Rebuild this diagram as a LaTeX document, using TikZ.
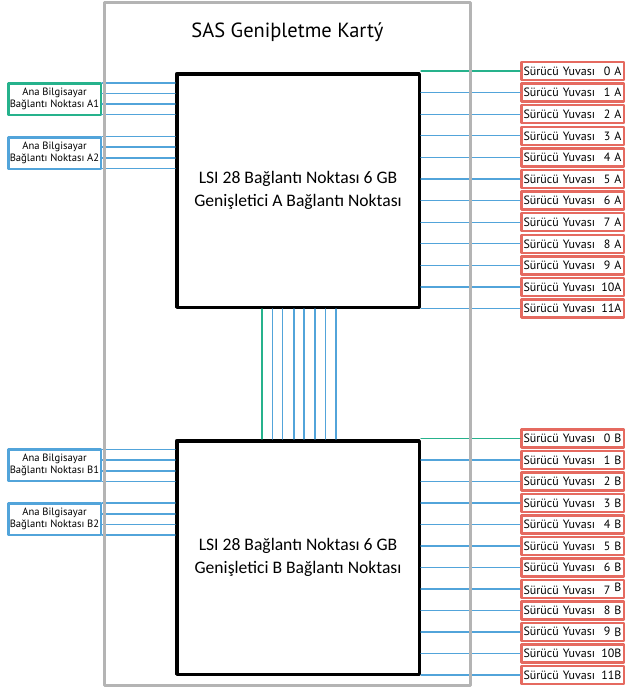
\documentclass[tikz,border=0pt]{standalone}
\usepackage{fontspec}
\setmainfont{PT Sans}
\newfontfamily\calfont{Carlito}
\definecolor{sasgreen}{RGB}{38,178,140}
\definecolor{sasblue}{RGB}{82,164,218}
\definecolor{sasred}{RGB}{229,106,96}
\definecolor{sasgray}{RGB}{180,180,180}

\begin{document}
\begin{tikzpicture}[line cap=round,line join=round,x=1pt,y=-1pt,
expbox/.style={draw=black,line width=3.5pt,minimum width=242.5pt,minimum height=233.5pt,align=center,font=\calfont\fontsize{17.6}{23.5}\selectfont},
hostbox/.style={draw=sasblue,line width=2.5pt,fill=white,minimum width=92.5pt,minimum height=31.5pt,inner sep=0pt,align=center,font=\fontsize{10.6}{12.5}\selectfont},
drivebox/.style={draw=sasred,line width=2.5pt,minimum width=102.5pt,minimum height=18pt,inner sep=0pt,text width=98pt,align=left,font=\fontsize{12}{13}\selectfont},
wire/.style={draw=sasblue,line width=1.1pt},
greenwire/.style={draw=sasgreen,line width=1.1pt}]

\useasboundingbox (0,0) rectangle (627,691);

\node[anchor=base,font=\fontsize{20.5}{24}\selectfont] (title) at (287.5,37) {SAS Geniþletme Kartý};

\node[expbox] (expA) at (298,190.5) {LSI 28 Bağlantı Noktası 6 GB\\Genişletici A Bağlantı Noktası};
\node[expbox] (expB) at (298,557.5) {LSI 28 Bağlantı Noktası 6 GB\\Genişletici B Bağlantı Noktası};

\node[hostbox,draw=sasgreen] (hostA1) at (54.5,99) {Ana Bilgisayar\\Bağlantı Noktası A1};
\node[hostbox] (hostA2) at (54.5,153) {Ana Bilgisayar\\Bağlantı Noktası A2};
\node[hostbox] (hostB1) at (54.5,465) {Ana Bilgisayar\\Bağlantı Noktası B1};
\node[hostbox] (hostB2) at (54.5,519) {Ana Bilgisayar\\Bağlantı Noktası B2};

\node[drivebox] (dA0) at (572.5,71) {Sürücü Yuvası\hfill 0 A};
\node[drivebox] (dA1) at (572.5,92.6) {Sürücü Yuvası\hfill 1 A};
\node[drivebox] (dA2) at (572.5,114.2) {Sürücü Yuvası\hfill 2 A};
\node[drivebox] (dA3) at (572.5,135.8) {Sürücü Yuvası\hfill 3 A};
\node[drivebox] (dA4) at (572.5,157.4) {Sürücü Yuvası\hfill 4 A};
\node[drivebox] (dA5) at (572.5,179) {Sürücü Yuvası\hfill 5 A};
\node[drivebox] (dA6) at (572.5,200.6) {Sürücü Yuvası\hfill 6 A};
\node[drivebox] (dA7) at (572.5,222.2) {Sürücü Yuvası\hfill 7 A};
\node[drivebox] (dA8) at (572.5,243.8) {Sürücü Yuvası\hfill 8 A};
\node[drivebox] (dA9) at (572.5,265.4) {Sürücü Yuvası\hfill 9 A};
\node[drivebox] (dA10) at (572.5,287) {Sürücü Yuvası\hfill 10A};
\node[drivebox] (dA11) at (572.5,308.6) {Sürücü Yuvası\hfill 11A};

\node[drivebox] (dB0) at (572.5,438.5) {Sürücü Yuvası\hfill 0 B};
\node[drivebox] (dB1) at (572.5,460) {Sürücü Yuvası\hfill 1 B};
\node[drivebox] (dB2) at (572.5,481.5) {Sürücü Yuvası\hfill 2 B};
\node[drivebox] (dB3) at (572.5,503) {Sürücü Yuvası\hfill 3 B};
\node[drivebox] (dB4) at (572.5,524.5) {Sürücü Yuvası\hfill 4 B};
\node[drivebox] (dB5) at (572.5,546) {Sürücü Yuvası\hfill 5 B};
\node[drivebox] (dB6) at (572.5,567.5) {Sürücü Yuvası\hfill 6 B};
\node[drivebox] (dB7) at (572.5,589) {Sürücü Yuvası\hfill 7 \raisebox{2.5pt}{B}};
\node[drivebox] (dB8) at (572.5,610.5) {Sürücü Yuvası\hfill 8 B};
\node[drivebox] (dB9) at (572.5,632) {Sürücü Yuvası\hfill 9 \raisebox{-1pt}{B}};
\node[drivebox] (dB10) at (572.5,653.5) {Sürücü Yuvası\hfill 10B};
\node[drivebox] (dB11) at (572.5,675) {Sürücü Yuvası\hfill 11B};

\draw[wire] (hostA1.east |- 0,83) -- (expA.west |- 0,83);
\draw[wire] (hostA1.east |- 0,93.5) -- (expA.west |- 0,93.5);
\draw[wire] (hostA1.east |- 0,104) -- (expA.west |- 0,104);
\draw[wire] (hostA1.east |- 0,114.5) -- (expA.west |- 0,114.5);
\draw[wire] (hostA2.east |- 0,136.5) -- (expA.west |- 0,136.5);
\draw[wire] (hostA2.east |- 0,147) -- (expA.west |- 0,147);
\draw[wire] (hostA2.east |- 0,158) -- (expA.west |- 0,158);
\draw[wire] (hostA2.east |- 0,168.5) -- (expA.west |- 0,168.5);
\draw[wire] (hostB1.east |- 0,449.5) -- (expB.west |- 0,449.5);
\draw[wire] (hostB1.east |- 0,460) -- (expB.west |- 0,460);
\draw[wire] (hostB1.east |- 0,471) -- (expB.west |- 0,471);
\draw[wire] (hostB1.east |- 0,481.5) -- (expB.west |- 0,481.5);
\draw[wire] (hostB2.east |- 0,503) -- (expB.west |- 0,503);
\draw[wire] (hostB2.east |- 0,514) -- (expB.west |- 0,514);
\draw[wire] (hostB2.east |- 0,524.5) -- (expB.west |- 0,524.5);
\draw[wire] (hostB2.east |- 0,535) -- (expB.west |- 0,535);

\draw[greenwire] (expA.east |- dA0.west) -- (dA0.west);
\draw[wire] (expA.east |- dA1.west) -- (dA1.west);
\draw[wire] (expA.east |- dA2.west) -- (dA2.west);
\draw[wire] (expA.east |- dA3.west) -- (dA3.west);
\draw[wire] (expA.east |- dA4.west) -- (dA4.west);
\draw[wire] (expA.east |- dA5.west) -- (dA5.west);
\draw[wire] (expA.east |- dA6.west) -- (dA6.west);
\draw[wire] (expA.east |- dA7.west) -- (dA7.west);
\draw[wire] (expA.east |- dA8.west) -- (dA8.west);
\draw[wire] (expA.east |- dA9.west) -- (dA9.west);
\draw[wire] (expA.east |- dA10.west) -- (dA10.west);
\draw[wire] (expA.east |- dA11.west) -- (dA11.west);

\draw[greenwire] (expB.east |- dB0.west) -- (dB0.west);
\draw[wire] (expB.east |- dB1.west) -- (dB1.west);
\draw[wire] (expB.east |- dB2.west) -- (dB2.west);
\draw[wire] (expB.east |- dB3.west) -- (dB3.west);
\draw[wire] (expB.east |- dB4.west) -- (dB4.west);
\draw[wire] (expB.east |- dB5.west) -- (dB5.west);
\draw[wire] (expB.east |- dB6.west) -- (dB6.west);
\draw[wire] (expB.east |- dB7.west) -- (dB7.west);
\draw[wire] (expB.east |- dB8.west) -- (dB8.west);
\draw[wire] (expB.east |- dB9.west) -- (dB9.west);
\draw[wire] (expB.east |- dB10.west) -- (dB10.west);
\draw[wire] (expB.east |- dB11.west) -- (dB11.west);

\draw[greenwire] (expA.south -| 262,0) -- (expB.north -| 262,0);
\draw[wire] (expA.south -| 272.5,0) -- (expB.north -| 272.5,0);
\draw[wire] (expA.south -| 282.5,0) -- (expB.north -| 282.5,0);
\draw[wire] (expA.south -| 294,0) -- (expB.north -| 294,0);
\draw[wire] (expA.south -| 304,0) -- (expB.north -| 304,0);
\draw[wire] (expA.south -| 315,0) -- (expB.north -| 315,0);
\draw[wire] (expA.south -| 325.5,0) -- (expB.north -| 325.5,0);
\draw[wire] (expA.south -| 336,0) -- (expB.north -| 336,0);

\draw[sasgray,line width=3pt] (104,2) rectangle (470,685);

\end{tikzpicture}
\end{document}
